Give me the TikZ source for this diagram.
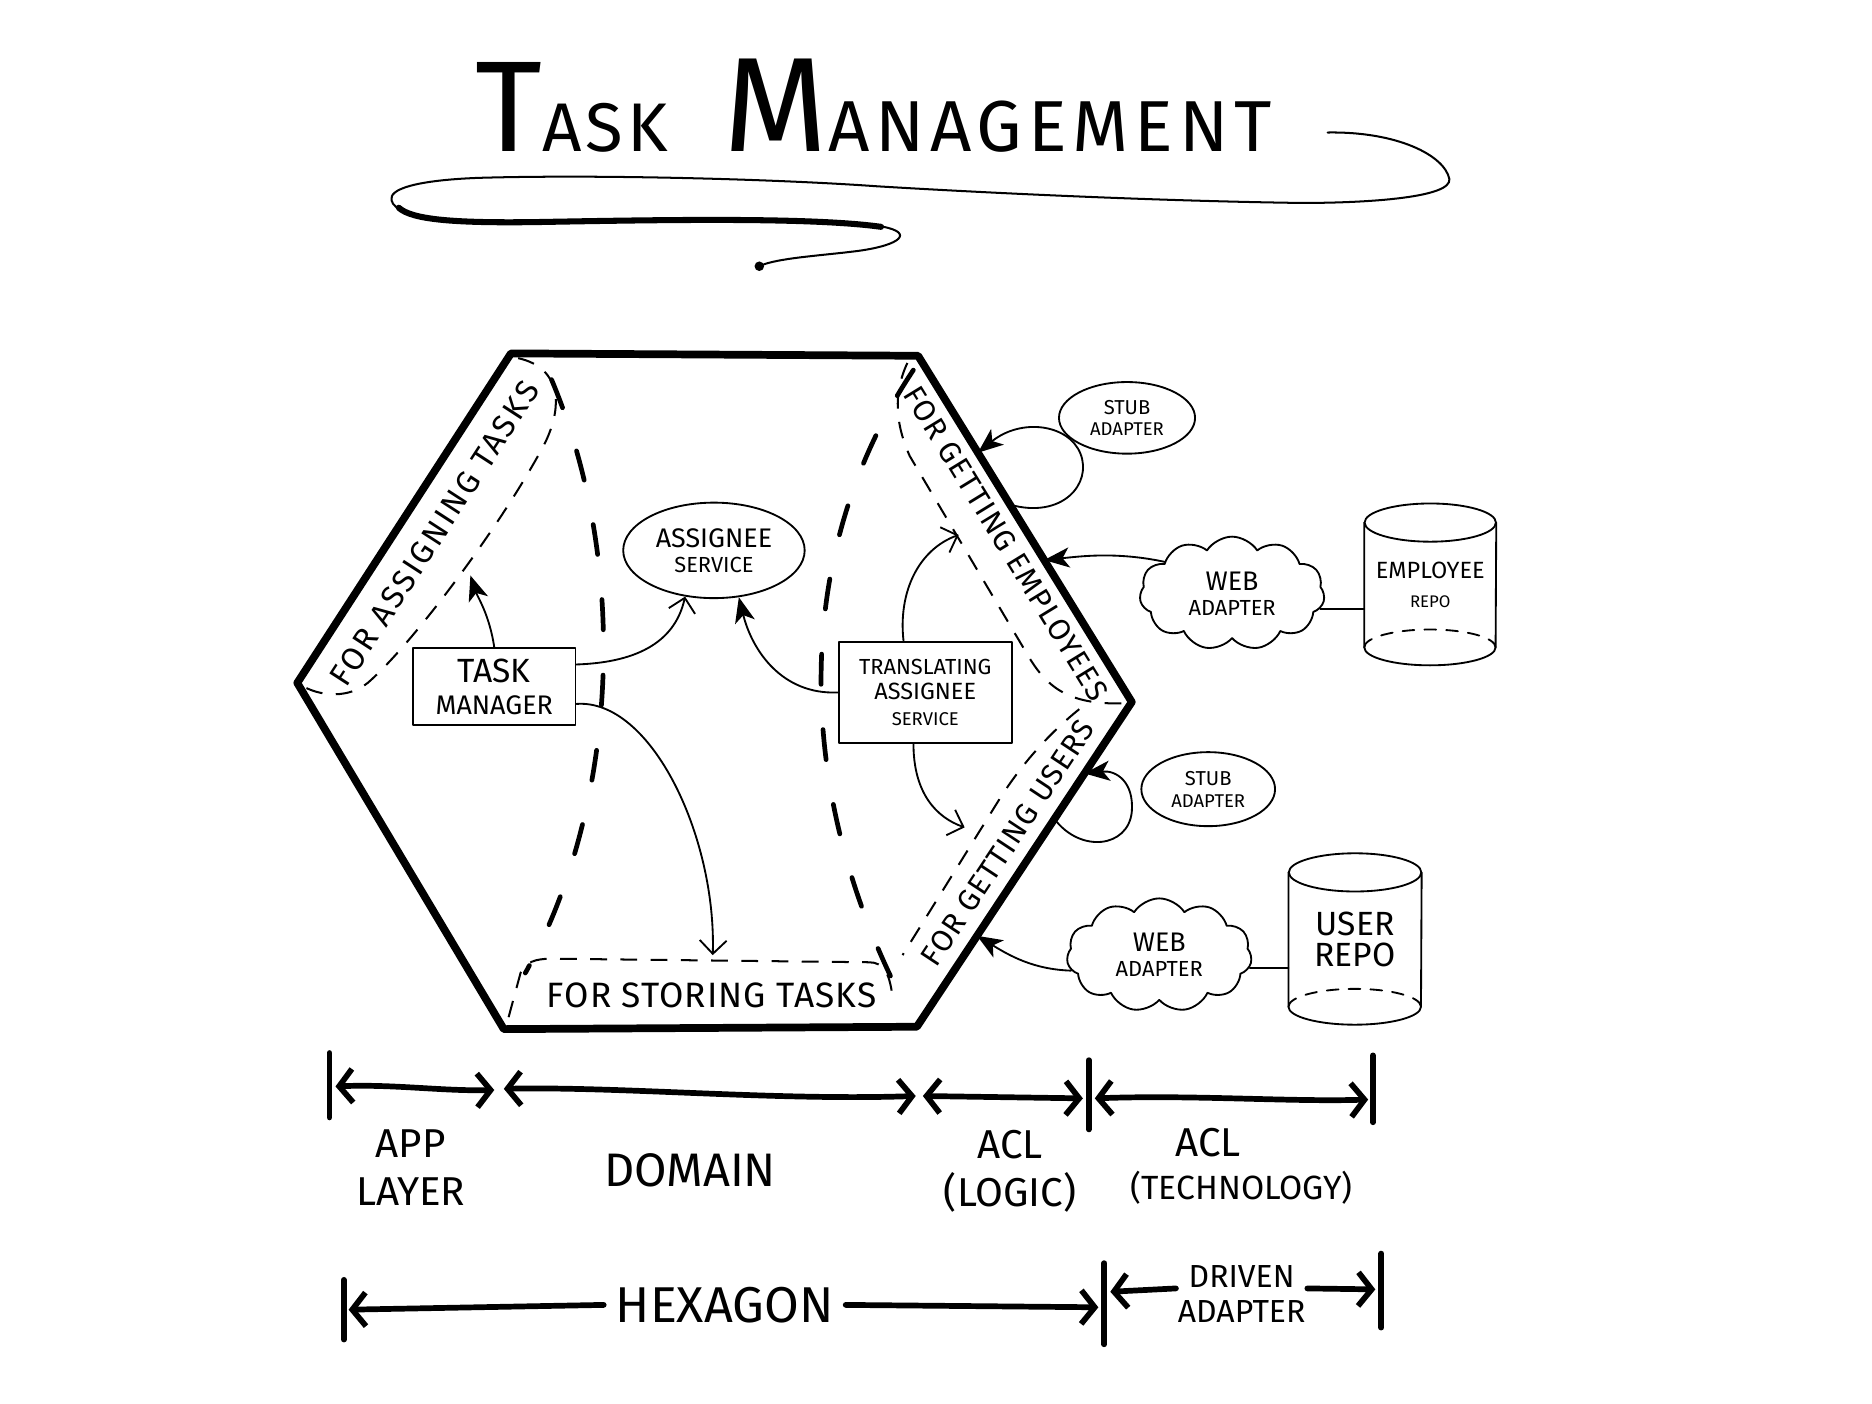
\documentclass[tikz,border=0pt]{standalone}
\usepackage{fontspec}
\setmainfont{Fira Sans}
\usetikzlibrary{arrows.meta,calc,shapes.geometric,shapes.symbols}
\newcommand{\unitpx}{0.025cm}
\newcommand{\fs}[1]{\fontsize{#1}{#1}\selectfont}
\begin{document}
\begin{tikzpicture}[x=0.025cm,y=-0.025cm,
  ink/.style={line width=1.1pt, line cap=round, line join=round},
  hexline/.style={line width=4.6pt, line join=round},
  zone/.style={line width=1.2pt, dash pattern=on 10pt off 8pt},
  split/.style={line width=2.8pt, dash pattern=on 18pt off 27pt, line cap=round},
  box/.style={draw, ink, inner sep=2pt, align=center},
  lbl/.style={inner sep=1pt, align=center},
  opentip/.style={arrows={-Straight Barb[length=8pt,width=16pt]}},
  solidtip/.style={arrows={-Stealth[length=15pt,width=12pt,inset=4pt]}},
  dim/.style={line width=3.4pt, line cap=round},
  dimtip/.style={arrows={Straight Barb[length=8pt,width=20pt]-Straight Barb[length=8pt,width=20pt]}},
  dimend/.style={arrows={-Straight Barb[length=8pt,width=20pt]}},
]
\useasboundingbox (0,0) rectangle (1568,1176);

% ---------- title with swash underline ----------
\node[anchor=base west, inner sep=0pt] (title1) at (398,127)
  {{\fs{77}T}{\fs{41}\addfontfeature{LetterSpace=6}ASK}};
\node[anchor=base west, inner sep=0pt] (title2) at (606,127)
  {{\fs{80}M}{\fs{43}\addfontfeature{LetterSpace=8}ANAGEMENT}};
\draw[line width=1.2pt, line cap=round]
  (1112,111) .. controls (1170,110) and (1210,130) .. (1214,150)
  .. controls (1216,165) and (1150,170) .. (1090,170)
  .. controls (950,168) and (800,160) .. (734,156)
  .. controls (650,150) and (500,146) .. (400,149)
  .. controls (350,151) and (325,158) .. (328,168)
  .. controls (332,183) and (380,187) .. (450,186)
  .. controls (560,184) and (680,182) .. (740,190)
  .. controls (765,195) and (755,205) .. (720,210)
  .. controls (690,214) and (650,216) .. (636,223);
\draw[line width=3.6pt, line cap=round]
  (334,174) .. controls (345,184) and (380,187) .. (450,186)
  .. controls (560,184) and (680,182) .. (738,190);
\fill (636,223) circle[radius=4];

% ---------- hexagon ----------
\coordinate (TL) at (428,296);
\coordinate (TR) at (769,298);
\coordinate (R) at (948,588);
\coordinate (BR) at (768,860);
\coordinate (BL) at (422,862);
\coordinate (L) at (249,572);
\draw[hexline] (TL) -- (TR) -- (R) -- (BR) -- (BL) -- (L) -- cycle;

% port zones
\draw[zone] (434,300) .. controls (470,308) and (472,340) .. (456,372)
  .. controls (420,440) and (345,540) .. (308,572)
  .. controls (292,585) and (270,583) .. (256,576);
\draw[zone] (760,304) .. controls (748,330) and (750,355) .. (762,382)
  -- (861,549) .. controls (878,578) and (898,591) .. (944,589);
\draw[zone] (904,594) .. controls (878,615) and (856,640) .. (838,668) -- (756,800);
\draw[zone] (426,852) -- (436,815) .. controls (440,806) and (448,803) .. (462,803)
  -- (728,806) .. controls (740,806) and (746,815) .. (748,840);

% domain boundaries
\draw[split] (462,318) .. controls (530,480) and (515,680) .. (440,815);
\draw[split] (765,310) .. controls (665,460) and (665,650) .. (748,822);

% zone labels
\node[lbl, rotate=57, font=\fs{19}\addfontfeature{LetterSpace=8}] (lassign) at (364,447) {FOR ASSIGNING TASKS};
\node[lbl, rotate=-58.5, font=\fs{18}\addfontfeature{LetterSpace=4}] (lemploy) at (843,455) {FOR GETTING EMPLOYEES};
\node[lbl, rotate=56.5, font=\fs{18}\addfontfeature{LetterSpace=4}] (lusers) at (844,706) {FOR GETTING USERS};
\node[lbl, font=\fs{21}\addfontfeature{LetterSpace=3}] (lstore) at (596,834) {FOR STORING TASKS};

% ---------- inner components ----------
\node[box, minimum width=136*\unitpx, minimum height=64*\unitpx, font=\fs{16}] (tm) at (414,575)
  {{\fs{20}TASK}\\[3pt]MANAGER};
\node[draw, ink, ellipse, minimum width=152*\unitpx, minimum height=80*\unitpx, inner sep=0pt, align=center] (as) at (598,461)
  {{\fs{16}ASSIGNEE}\\[3pt]{\fs{13}SERVICE}};
\node[box, minimum width=145*\unitpx, minimum height=84*\unitpx] (tas) at (775,580)
  {{\fs{13}TRANSLATING}\\[3pt]{\fs{14}ASSIGNEE}\\[3pt]{\fs{11}SERVICE}};

\coordinate (pa) at (394,482);
\coordinate (pc) at (597,800);
\coordinate (pe) at (803,448);
\coordinate (pu) at (808,693);

\draw[ink, solidtip] (tm.north) .. controls (410,515) and (400,500) .. (pa);
\draw[ink, opentip] (tm.15) .. controls (530,555) and (565,540) .. (as.-122);
\draw[ink, opentip] (tm.-12) .. controls (545,585) and (600,700) .. (pc);
\draw[ink, solidtip] (tas.west) .. controls (655,582) and (630,545) .. (as.-62);
\draw[ink, opentip] (tas.113) .. controls (752,495) and (770,460) .. (pe);
\draw[ink, opentip] (tas.-103) .. controls (765,665) and (785,685) .. (pu);

% ---------- adapters ----------
\node[draw, ink, ellipse, minimum width=114*\unitpx, minimum height=60*\unitpx, inner sep=0pt, align=center] (stub1) at (944,350)
  {{\fs{12}STUB}\\[1pt]{\fs{11}ADAPTER}};
\node[draw, ink, ellipse, minimum width=112*\unitpx, minimum height=62*\unitpx, inner sep=0pt, align=center] (stub2) at (1012,661)
  {{\fs{12}STUB}\\[1pt]{\fs{11}ADAPTER}};
\node[draw, ink, cloud, cloud puffs=11, cloud puff arc=115, cloud ignores aspect,
      minimum width=155*\unitpx, minimum height=95*\unitpx, inner sep=0pt, align=center] (web1) at (1032,497)
  {{\fs{16}WEB}\\[3pt]{\fs{13}ADAPTER}};
\node[draw, ink, cloud, cloud puffs=11, cloud puff arc=115, cloud ignores aspect,
      minimum width=155*\unitpx, minimum height=95*\unitpx, inner sep=0pt, align=center] (web2) at (971,800)
  {{\fs{16}WEB}\\[3pt]{\fs{13}ADAPTER}};

% repositories (cylinders)
\node[minimum width=110*\unitpx, minimum height=104*\unitpx, inner sep=0pt, align=center] (erepo) at (1198,490)
  {{\fs{14}EMPLOYEE}\\[5pt]{\fs{10}REPO}};
\draw[ink] (erepo.north) ellipse[x radius=55*\unitpx, y radius=16*\unitpx];
\draw[ink] (erepo.north west) -- (erepo.south west)
  arc[start angle=180, end angle=360, x radius=55*\unitpx, y radius=15*\unitpx] -- (erepo.north east);
\draw[ink, dash pattern=on 7pt off 6pt] (erepo.south west)
  arc[start angle=180, end angle=0, x radius=55*\unitpx, y radius=15*\unitpx];

\node[minimum width=111*\unitpx, minimum height=112*\unitpx, inner sep=0pt, align=center] (urepo) at (1135,787)
  {{\fs{20}USER}\\[3pt]{\fs{20}REPO}};
\draw[ink] (urepo.north) ellipse[x radius=55.5*\unitpx, y radius=16*\unitpx];
\draw[ink] (urepo.north west) -- (urepo.south west)
  arc[start angle=180, end angle=360, x radius=55.5*\unitpx, y radius=15*\unitpx] -- (urepo.north east);
\draw[ink, dash pattern=on 7pt off 6pt] (urepo.south west)
  arc[start angle=180, end angle=0, x radius=55.5*\unitpx, y radius=15*\unitpx];

\draw[ink] (web1.-10) -- (web1.-10 -| erepo.west);
\draw[ink] (web2.-8) -- (web2.-8 -| urepo.west);

% adapter connections onto the hexagon
\coordinate (hw1) at ($(TR)!0.59!(R)$);
\coordinate (hw2) at ($(R)!0.72!(BR)$);
\draw[ink, solidtip] (web1.155) .. controls (935,462) and (905,466) .. (hw1);
\draw[ink, solidtip] (web2.190) .. controls (865,812) and (845,800) .. (hw2);

\coordinate (s1a) at ($(TR)!0.43!(R)$);
\coordinate (s1b) at ($(TR)!0.28!(R)$);
\draw[ink, solidtip] (s1a) .. controls (890,435) and (915,405) .. (905,380)
  .. controls (895,355) and (855,350) .. (s1b);
\coordinate (s2a) at ($(R)!0.36!(BR)$);
\coordinate (s2b) at ($(R)!0.22!(BR)$);
\draw[ink, solidtip] (s2a) .. controls (905,715) and (945,710) .. (948,680)
  .. controls (950,655) and (935,645) .. (s2b);

% ---------- layer dimensions ----------
\draw[dim] (276,882) -- (276,936);
\draw[dim] (912,888) -- (912,946);
\draw[dim] (1150,884) -- (1150,940);
\draw[dim, dimtip] (281,910) .. controls (330,908) and (370,914) .. (414,913);
\draw[dim, dimtip] (422,912) .. controls (520,910) and (650,922) .. (767,918);
\draw[dim, dimtip] (773,918) -- (907,920);
\draw[dim, dimtip] (917,920) .. controls (1000,917) and (1080,923) .. (1146,921);

\node[lbl, font=\fs{24}] (applbl) at (344,978) {APP\\[5pt]LAYER};
\node[lbl, font=\fs{28}] (domlbl) at (578,980) {DOMAIN};
\node[lbl, font=\fs{24}] (acl1lbl) at (846,981) {ACL\\[5pt](LOGIC)};
\node[lbl, font=\fs{24}] (acl2lbl) at (1012,957) {ACL};
\node[lbl, font=\fs{20}] (techlbl) at (1040,995) {(TECHNOLOGY)};

\coordinate (h0) at (292,1097);
\coordinate (h1) at (920,1095);
\coordinate (d0) at (930,1082);
\coordinate (d1) at (1152,1080);
\draw[dim] (288,1072) -- (288,1122);
\draw[dim] (925,1058) -- (925,1126);
\draw[dim] (1157,1050) -- (1157,1112);
\node[lbl, font=\fs{30}] (hexlbl) at (607,1093) {HEXAGON};
\node[lbl, font=\fs{19}] (drvlbl) at (1040,1084) {DRIVEN\\[2pt]ADAPTER};
\draw[dim, dimend] ([xshift=-6pt]hexlbl.west) -- (h0);
\draw[dim, dimend] ([xshift=6pt]hexlbl.east) -- (h1);
\draw[dim, dimend] (drvlbl.175) -- (d0);
\draw[dim, dimend] (drvlbl.5) -- (d1);
\end{tikzpicture}
\end{document}
